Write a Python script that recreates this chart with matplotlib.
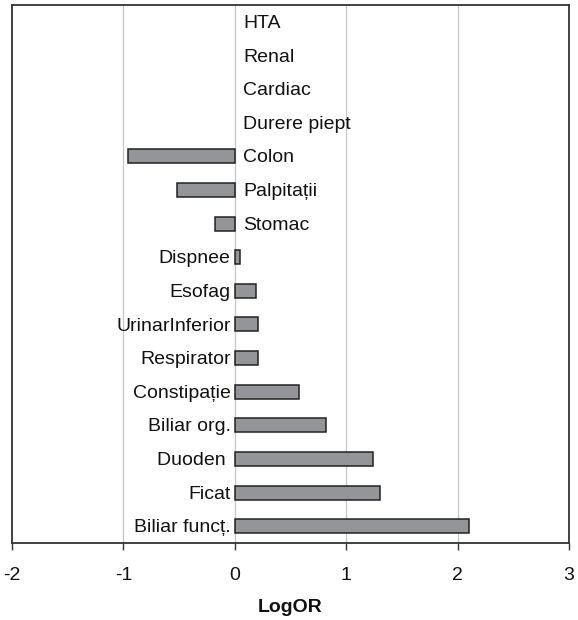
import matplotlib.pyplot as plt

# LogOR per complaint group, listed from top to bottom
categories = ["HTA", "Renal", "Cardiac", "Durere piept", "Colon", "Palpitații",
              "Stomac", "Dispnee", "Esofag", "UrinarInferior", "Respirator",
              "Constipație", "Biliar org.", "Duoden ", "Ficat", "Biliar funcț."]
log_or = [0.0, 0.0, 0.0, 0.0, -0.96, -0.52, -0.18, 0.05, 0.19, 0.21, 0.21,
          0.58, 0.82, 1.24, 1.30, 2.10]
x_ticks = [-2, -1, 0, 1, 2, 3]

plt.rcParams['font.family'] = ['Liberation Sans', 'DejaVu Sans']

fig = plt.figure(figsize=(5.78, 6.2), dpi=100)
ax = fig.add_axes([12 / 578, 1 - 543 / 620, 557 / 578, 538 / 620])

ypos = list(range(len(categories)))
# zero-width bars get no outline so no stray stroke shows on the zero line
edges = ['none' if v == 0 else '#222222' for v in log_or]
ax.barh(ypos, log_or, height=0.42, color='#939598', edgecolor=edges,
        linewidth=1.1, zorder=3)

# labels sit next to the zero line, on the side away from the bar
for y, name, v in zip(ypos, categories, log_or):
    if v > 0:
        ax.annotate(name, (0, y), xytext=(-3, -1.2), textcoords='offset points',
                    ha='right', va='center', fontsize=14, color='#111111')
    else:
        ax.annotate(name, (0, y), xytext=(6, -1.2), textcoords='offset points',
                    ha='left', va='center', fontsize=14, color='#111111')

ax.set_xlim(-2, 3)
ax.set_ylim(len(categories) - 0.5, -0.5)
ax.set_xticks(x_ticks)
ax.set_xticklabels([str(t) for t in x_ticks])
ax.set_yticks([])

for t in [-1, 0, 1, 2]:
    ax.axvline(t, color='#c4c4cc', linewidth=0.9, zorder=1)

for s in ax.spines.values():
    s.set_color('#333333')
    s.set_linewidth(1.3)

ax.tick_params(axis='x', direction='out', length=5, width=1.0,
               color='#333333', pad=12, labelsize=14, labelcolor='#111111')
ax.set_xlabel("LogOR", fontsize=14, fontweight='bold', labelpad=11,
              color='#111111')

fig.savefig("out.png", dpi=100)
